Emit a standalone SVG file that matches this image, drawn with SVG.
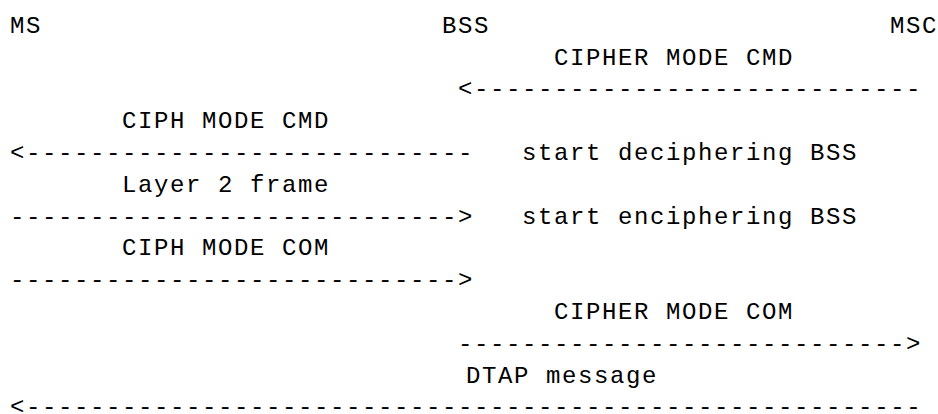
<svg xmlns="http://www.w3.org/2000/svg" width="938" height="414" viewBox="0 0 938 414">
<style>
text{font-family:"Liberation Mono","DejaVu Sans Mono",monospace;font-size:24px;letter-spacing:1.6px;fill:#000;white-space:pre}
</style>
<rect width="938" height="414" fill="#fff"/>
<g id="node-ms"><text x="10" y="33">MS</text></g>
<g id="node-bss"><text x="442" y="33">BSS</text></g>
<g id="node-msc"><text x="890" y="33">MSC</text></g>
<g id="connectors">
<text x="458" y="96.3">&lt;----------------------------</text>
<text x="10" y="159.9">&lt;----------------------------</text>
<text x="10" y="223.5">----------------------------&gt;</text>
<text x="10" y="287.1">----------------------------&gt;</text>
<text x="458" y="350.7">----------------------------&gt;</text>
<text x="10" y="414.3">&lt;--------------------------------------------------------</text>
</g>
<g id="labels">
<text x="554" y="64.5">CIPHER MODE CMD</text>
<text x="122" y="128.1">CIPH MODE CMD</text>
<text x="522" y="159.9">start deciphering BSS</text>
<text x="122" y="191.7">Layer 2 frame</text>
<text x="522" y="223.5">start enciphering BSS</text>
<text x="122" y="255.3">CIPH MODE COM</text>
<text x="554" y="318.9">CIPHER MODE COM</text>
<text x="466" y="382.5">DTAP message</text>
</g>
</svg>
